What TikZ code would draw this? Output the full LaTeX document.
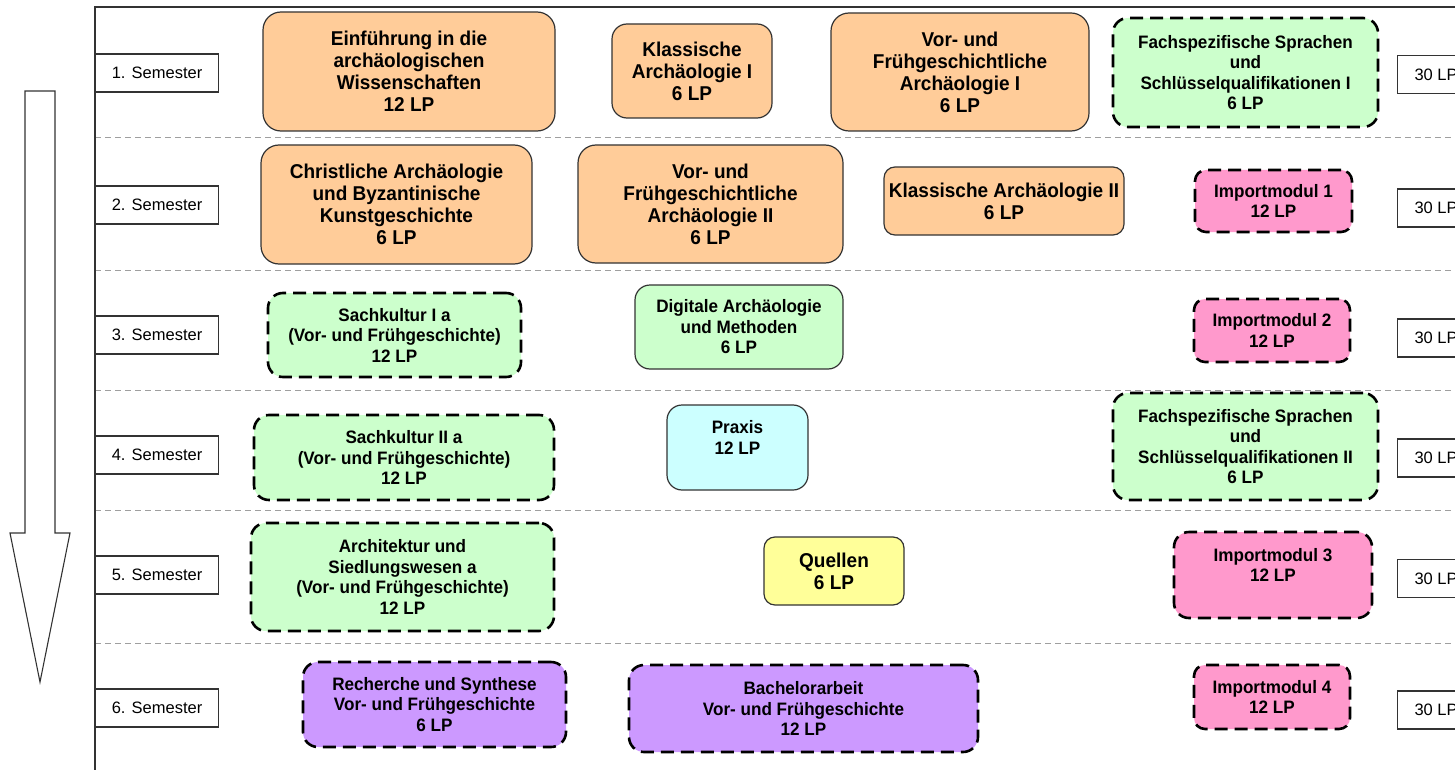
\documentclass[tikz,border=0pt]{standalone}
\usepackage{fontspec}
\setmainfont{Liberation Sans}
\newfontfamily\modfont{Liberation Sans}[FakeStretch=0.95]
\usetikzlibrary{positioning}

\definecolor{orangefill}{HTML}{FFCC99}
\definecolor{gruenfill}{HTML}{CCFFCC}
\definecolor{pinkfill}{HTML}{FF99CC}
\definecolor{cyanfill}{HTML}{CCFFFF}
\definecolor{gelbfill}{HTML}{FFFF99}
\definecolor{lilafill}{HTML}{CC99FF}
\definecolor{rahmen}{HTML}{333333}

\begin{document}
\begin{tikzpicture}[x=1pt, y=-1pt,
  modul/.style={rounded corners=15pt, inner sep=0pt, align=center, text=black},
  gross/.style={font=\modfont\bfseries\fontsize{20}{22}\selectfont},
  klein/.style={font=\modfont\bfseries\fontsize{18}{20.5}\selectfont},
  fest/.style={draw=rahmen, line width=1.2pt},
  wahl/.style={draw=black, line width=2.6pt, dash pattern=on 13pt off 7pt},
  semlabel/.style={draw=rahmen, line width=1.1pt, anchor=west, inner sep=0pt,
    minimum width=123pt, minimum height=38pt, font=\fontsize{16.5}{19}\selectfont},
  lpbox/.style={semlabel, minimum width=77pt},
  trenner/.style={gray!75, line width=1pt, dash pattern=on 6pt off 4pt}]
  % Rahmen der Seite
  \clip (0,0) rectangle (1455,770);
  \fill[white] (0,0) rectangle (1455,770);

  % Trennlinien zwischen den Semestern
  \foreach \y in {138,270,390,510,643}
    \draw[trenner] (95,\y) -- (1455,\y);
  \draw[rahmen, line width=1.3pt] (1455,7) -- (95,7) -- (95,770);

  % Zeitpfeil
  \draw[rahmen, line width=1.1pt, fill=white]
    (25,91) -- (55,91) -- (55,533) -- (70,533) -- (40,682) -- (10,533) -- (25,533) -- cycle;

  % Semester und Leistungspunkte
  \foreach \n/\ys/\yl in {1/73/74.5, 2/205/208, 3/335/338, 4/455/458, 5/575/578.5, 6/708/710} {
    \node[semlabel] (sem\n) at (95,\ys) {\n. Semester};
    \node[lpbox] (lp\n) at (1397,\yl) {30 LP};
  }

  % 1. Semester
  \node[modul, gross, fest, fill=orangefill, minimum width=292, minimum height=119, rounded corners=18pt]
    (einf) at (409,71.5) {Einführung in die\\archäologischen\\Wissenschaften\\12 LP};
  \node[modul, gross, fest, fill=orangefill, minimum width=160, minimum height=94]
    (klassI) at (692,71) {Klassische\\Archäologie I\\6 LP};
  \node[modul, gross, fest, fill=orangefill, minimum width=258, minimum height=118, rounded corners=18pt]
    (vfgI) at (960,72) {Vor- und\\Frühgeschichtliche\\Archäologie I\\6 LP};
  \node[modul, klein, wahl, fill=gruenfill, minimum width=265, minimum height=109]
    (fachI) at (1245.5,72.5) {Fachspezifische Sprachen\\und\\Schlüsselqualifikationen I\\6 LP};

  % 2. Semester
  \node[modul, gross, fest, fill=orangefill, minimum width=271, minimum height=119, rounded corners=18pt]
    (christ) at (396.5,204.5) {Christliche Archäologie\\und Byzantinische\\Kunstgeschichte\\6 LP};
  \node[modul, gross, fest, fill=orangefill, minimum width=265, minimum height=118, rounded corners=18pt]
    (vfgII) at (710.5,204) {Vor- und\\Frühgeschichtliche\\Archäologie II\\6 LP};
  \node[modul, gross, fest, fill=orangefill, minimum width=240, minimum height=68, rounded corners=11pt]
    (klassII) at (1004,201) {Klassische Archäologie II\\6 LP};
  \node[modul, klein, wahl, fill=pinkfill, minimum width=157, minimum height=62, rounded corners=11pt]
    (imp1) at (1273.5,201) {Importmodul 1\\12 LP};

  % 3. Semester
  \node[modul, klein, wahl, fill=gruenfill, minimum width=253, minimum height=84]
    (sachI) at (394.5,335) {Sachkultur I a\\(Vor- und Frühgeschichte)\\12 LP};
  \node[modul, klein, fest, fill=gruenfill, minimum width=208, minimum height=84]
    (digi) at (739,327) {Digitale Archäologie\\und Methoden\\6 LP};
  \node[modul, klein, wahl, fill=pinkfill, minimum width=156, minimum height=63, rounded corners=11pt]
    (imp2) at (1272,330.5) {Importmodul 2\\12 LP};

  % 4. Semester
  \node[modul, klein, wahl, fill=gruenfill, minimum width=300, minimum height=85]
    (sachII) at (404,457.5) {Sachkultur II a\\(Vor- und Frühgeschichte)\\12 LP};
  \node[modul, klein, fest, fill=cyanfill, minimum width=141, minimum height=85]
    (praxis) at (737.5,447.5) {Praxis\\12 LP\\~};
  \node[modul, klein, wahl, fill=gruenfill, minimum width=265, minimum height=107]
    (fachII) at (1245.5,446.5) {Fachspezifische Sprachen\\und\\Schlüsselqualifikationen II\\6 LP};

  % 5. Semester
  \node[modul, klein, wahl, fill=gruenfill, minimum width=303, minimum height=108]
    (arch) at (402.5,577) {Architektur und\\Siedlungswesen a\\(Vor- und Frühgeschichte)\\12 LP};
  \node[modul, gross, fest, fill=gelbfill, minimum width=140, minimum height=68, rounded corners=11pt]
    (quellen) at (834,571) {Quellen\\6 LP};
  \node[modul, klein, wahl, fill=pinkfill, minimum width=198, minimum height=86]
    (imp3) at (1273,575) {Importmodul 3\\12 LP\\~};

  % 6. Semester
  \node[modul, klein, wahl, fill=lilafill, minimum width=263, minimum height=85]
    (rech) at (434.5,704.5) {Recherche und Synthese\\Vor- und Frühgeschichte\\6 LP};
  \node[modul, klein, wahl, fill=lilafill, minimum width=349, minimum height=87]
    (bach) at (803.5,708.5) {Bachelorarbeit\\Vor- und Frühgeschichte\\12 LP};
  \node[modul, klein, wahl, fill=pinkfill, minimum width=156, minimum height=64, rounded corners=11pt]
    (imp4) at (1272,697) {Importmodul 4\\12 LP};
\end{tikzpicture}
\end{document}
